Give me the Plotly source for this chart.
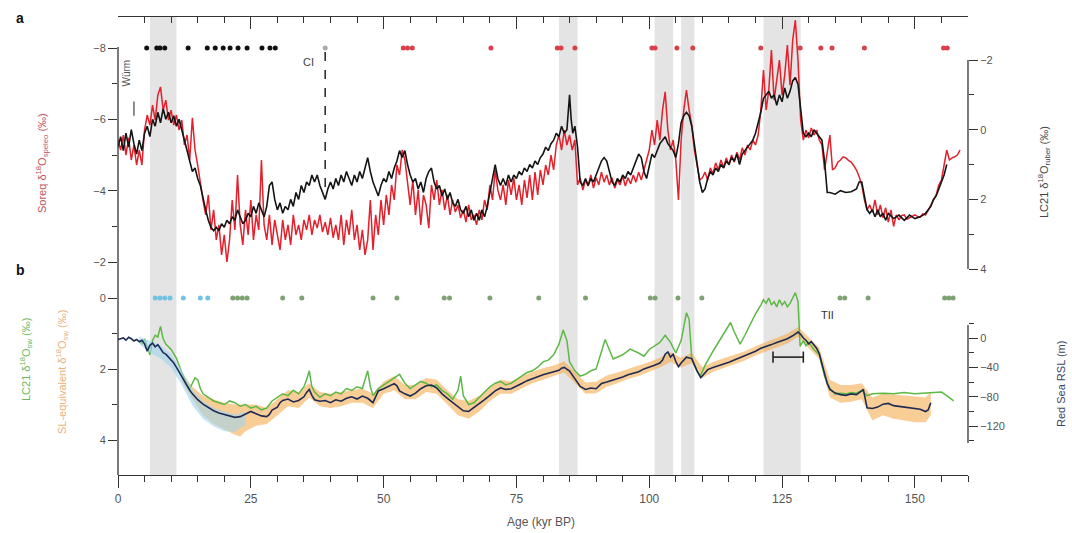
import plotly.graph_objects as go

# ---------------- DATA ----------------
# Panel a: Soreq speleothem d18O (left axis, reversed) as (age kyr, value)
soreq = [
(0,-5.42),(0.5,-5.14),(1,-5.56),(1.5,-5.0),(2,-5.48),(2.5,-4.86),(3,-5.28),(3.5,-4.72),(4,-5.14),(4.5,-4.72),
(5,-5.70),(5.5,-6.12),(6,-5.84),(6.5,-6.40),(7,-5.98),(7.5,-6.68),(8,-6.91),(8.5,-6.26),(9,-6.54),(9.5,-5.98),
(10,-6.26),(10.5,-5.84),(11,-6.12),(11.5,-5.70),(12,-5.98),(12.5,-5.28),(13,-5.56),(13.5,-4.86),(14,-6.04),(14.5,-5.14),
(15,-4.72),(15.5,-4.16),(16,-3.74),(16.5,-3.32),(17,-3.88),(17.5,-2.90),(18,-3.46),(18.5,-2.62),(19,-3.04),(19.5,-2.20),
(20,-2.76),(20.5,-2.00),(21,-2.62),(21.5,-3.74),(22,-2.90),(22.5,-4.44),(23,-3.04),(23.5,-2.48),(24,-3.46),(24.5,-2.76),
(25,-3.74),(25.5,-2.62),(26,-3.32),(26.5,-2.90),(27,-4.86),(27.5,-3.04),(28,-2.62),(28.5,-3.32),(29,-2.48),(29.5,-3.18),
(30,-2.76),(30.5,-2.34),(31,-3.18),(31.5,-2.62),(32,-3.04),(32.5,-2.48),(33,-3.32),(33.5,-2.76),(34,-3.04),(34.5,-2.62),
(35,-3.18),(35.5,-2.90),(36,-3.32),(36.5,-2.76),(37,-3.18),(37.5,-2.95),(38,-3.32),(38.5,-2.84),(39,-3.12),(39.5,-2.76),
(40,-3.24),(40.5,-2.68),(41,-3.04),(41.5,-2.62),(42,-3.32),(42.5,-2.48),(43,-3.18),(43.5,-2.76),(44,-3.46),(44.5,-2.62),
(45,-3.04),(45.5,-2.34),(46,-2.90),(46.5,-2.20),(47,-2.62),(47.5,-3.74),(48,-2.34),(48.5,-3.32),(49,-2.76),(49.5,-3.74),
(50,-3.04),(50.5,-3.88),(51,-3.32),(51.5,-4.16),(52,-3.74),(52.5,-4.72),(53,-4.44),(53.5,-5.14),(54,-4.86),(54.5,-4.16),
(55,-3.60),(55.5,-4.30),(56,-3.32),(56.5,-4.02),(57,-3.04),(57.5,-3.88),(58,-3.60),(58.5,-2.95),(59,-4.16),(59.5,-3.74),
(60,-4.30),(60.5,-3.60),(61,-4.02),(61.5,-3.46),(62,-3.88),(62.5,-3.32),(63,-3.74),(63.5,-3.40),(64,-3.60),(64.5,-3.24),
(65,-3.46),(65.5,-3.12),(66,-3.60),(66.5,-3.18),(67,-3.32),(67.5,-3.04),(68,-3.46),(68.5,-3.18),(69,-3.74),(69.5,-3.46),
(70,-4.16),(70.5,-3.74),(71,-4.58),(71.5,-4.02),(72,-3.74),(72.5,-4.16),(73,-3.60),(73.5,-4.30),(74,-3.88),(74.5,-4.36),
(75,-3.74),(75.5,-4.16),(76,-3.60),(76.5,-4.30),(77,-3.80),(77.5,-4.44),(78,-3.74),(78.5,-4.52),(79,-3.88),(79.5,-4.58),
(80,-4.16),(80.5,-4.72),(81,-4.44),(81.5,-5.00),(82,-4.58),(82.5,-5.28),(83,-5.56),(83.5,-5.14),(84,-5.70),(84.5,-5.28),
(85,-5.56),(85.5,-5.14),(86,-5.42),(86.5,-4.16),(87,-4.36),(87.5,-4.02),(88,-4.30),(88.5,-4.13),(89,-4.44),(89.5,-4.07),
(90,-4.36),(90.5,-4.16),(91,-4.52),(91.5,-4.24),(92,-4.44),(92.5,-4.16),(93,-4.36),(93.5,-4.07),(94,-4.30),(94.5,-4.16),
(95,-4.41),(95.5,-4.13),(96,-4.36),(96.5,-4.19),(97,-4.44),(97.5,-4.24),(98,-4.52),(98.5,-4.30),(99,-4.58),(99.5,-4.86),
(100,-5.14),(100.5,-5.70),(101,-5.28),(101.5,-5.98),(102,-5.42),(102.5,-6.26),(103,-6.77),(103.5,-5.70),(104,-5.14),(104.5,-5.42),
(105,-4.86),(105.5,-3.74),(106,-5.42),(106.5,-6.26),(107,-6.82),(107.5,-6.26),(108,-5.84),(108.5,-5.14),(109,-4.72),(109.5,-4.30),
(110,-4.36),(110.5,-4.52),(111,-4.30),(111.5,-4.64),(112,-4.47),(112.5,-4.78),(113,-4.58),(113.5,-4.86),(114,-4.64),(114.5,-4.92),
(115,-4.72),(115.5,-5.00),(116,-4.80),(116.5,-5.08),(117,-4.86),(117.5,-5.20),(118,-5.00),(118.5,-5.28),(119,-5.14),(119.5,-5.42),
(120,-5.28),(120.5,-5.56),(121,-6.26),(121.5,-7.38),(122,-6.26),(122.5,-6.82),(123,-7.94),(123.5,-6.54),(124,-7.10),(124.5,-7.66),
(125,-6.68),(125.5,-7.24),(126,-8.08),(126.5,-6.96),(127,-8.22),(127.5,-8.78),(128,-7.66),(128.5,-5.98),(129,-5.42),(129.5,-5.70),
(130,-5.48),(130.5,-5.76),(131,-5.56),(131.5,-5.70),(132,-5.42),(132.5,-5.28),(133,-4.58),(133.5,-5.14),(134,-5.56),(134.5,-4.58),
(135,-4.64),(135.5,-4.80),(136,-4.86),(136.5,-4.95),(137,-4.92),(137.5,-4.85),(138,-4.80),(138.5,-4.70),(139,-4.58),(139.5,-4.40),
(140,-4.16),(140.5,-3.74),(141,-3.46),(141.5,-3.60),(142,-3.40),(142.5,-3.74),(143,-3.32),(143.5,-3.60),(144,-3.24),(144.5,-3.52),
(145,-3.12),(145.5,-3.46),(146,-3.00),(146.5,-3.32),(147,-3.18),(147.5,-3.30),(148,-3.32),(148.5,-3.20),(149,-3.24),(149.5,-3.30),
(150,-3.32),(150.5,-3.28),(151,-3.26),(151.5,-3.35),(152,-3.32),(152.5,-3.45),(153,-3.60),(153.5,-3.74),(154,-3.88),(154.5,-4.16),
(155,-4.30),(155.5,-4.72),(156,-5.14),(156.5,-4.86),(157,-4.92),(157.5,-4.95),(158,-5.00),(158.5,-5.14)]

# Panel a: LC21 G. ruber d18O (right axis, reversed)
lc21_ruber = [
(0,0.5),(0.5,0.2),(1,0.6),(1.5,0.1),(2,0.5),(2.5,0.0),(3,0.4),(3.5,0.7),(4,0.3),(4.5,0.6),
(5,0.1),(5.5,-0.1),(6,0.2),(6.5,-0.3),(7,-0.1),(7.5,-0.5),(8,-0.2),(8.5,-0.6),(9,-0.3),(9.5,-0.5),
(10,-0.2),(10.5,-0.4),(11,-0.1),(11.5,-0.3),(12,0.0),(12.5,0.3),(13,0.6),(13.5,0.9),(14,1.2),(14.5,1.1),
(15,1.4),(15.5,1.6),(16,2.0),(16.5,2.3),(17,2.6),(17.5,2.8),(18,2.9),(18.5,2.8),(19,2.9),(19.5,2.7),
(20,2.8),(20.5,2.6),(21,2.7),(21.5,2.5),(22,2.6),(22.5,2.3),(23,2.5),(23.5,2.7),(24,2.6),(24.5,2.4),
(25,2.5),(25.5,2.2),(26,2.4),(26.5,2.1),(27,2.3),(27.5,2.5),(28,2.2),(28.5,1.6),(29,1.5),(29.5,2.0),
(30,2.3),(30.5,2.1),(31,2.4),(31.5,2.2),(32,2.3),(32.5,2.0),(33,2.2),(33.5,1.8),(34,2.0),(34.5,1.6),
(35,1.8),(35.5,1.5),(36,1.6),(36.5,1.3),(37,1.5),(37.5,1.3),(38,1.6),(38.5,1.8),(39,2.0),(39.5,1.7),
(40,1.5),(40.5,1.7),(41,1.4),(41.5,1.6),(42,1.3),(42.5,1.5),(43,1.2),(43.5,1.4),(44,1.6),(44.5,1.3),
(45,1.5),(45.5,1.2),(46,1.4),(46.5,1.1),(47,0.8),(47.5,1.2),(48,1.5),(48.5,1.7),(49,1.9),(49.5,1.6),
(50,1.4),(50.5,1.5),(51,1.2),(51.5,1.4),(52,1.1),(52.5,0.9),(53,0.6),(53.5,0.8),(54,0.6),(54.5,1.0),
(55,1.3),(55.5,1.5),(56,1.4),(56.5,1.7),(57,1.5),(57.5,1.8),(58,1.4),(58.5,1.2),(59,1.1),(59.5,1.5),
(60,1.7),(60.5,1.6),(61,1.9),(61.5,1.7),(62,2.0),(62.5,1.8),(63,2.1),(63.5,2.2),(64,2.0),(64.5,2.3),
(65,2.4),(65.5,2.2),(66,2.5),(66.5,2.3),(67,2.6),(67.5,2.4),(68,2.6),(68.5,2.3),(69,2.5),(69.5,2.2),
(70,1.8),(70.5,1.3),(71,1.0),(71.5,1.4),(72,1.6),(72.5,1.4),(73,1.6),(73.5,1.3),(74,1.5),(74.5,1.3),
(75,1.4),(75.5,1.2),(76,1.3),(76.5,1.1),(77,1.2),(77.5,1.0),(78,1.1),(78.5,0.9),(79,1.0),(79.5,0.8),
(80,0.7),(80.5,0.5),(81,0.6),(81.5,0.4),(82,0.3),(82.5,0.1),(83,0.2),(83.5,-0.1),(84,0.1),(84.5,0.0),
(85,-1.0),(85.3,-0.3),(85.6,0.1),(86,-0.1),(86.5,0.5),(87,1.5),(87.5,1.6),(88,1.4),(88.5,1.6),(89,1.4),
(89.5,1.5),(90,1.3),(90.5,1.1),(91,0.9),(91.5,0.8),(92,0.9),(92.5,1.2),(93,1.5),(93.5,1.6),(94,1.4),
(94.5,1.5),(95,1.3),(95.5,1.4),(96,1.2),(96.5,1.3),(97,1.1),(97.5,0.9),(98,0.7),(98.5,0.8),(99,1.2),
(99.5,1.4),(100,1.0),(100.5,0.7),(101,0.8),(101.5,0.6),(102,0.4),(102.5,0.3),(103,0.2),(103.5,0.4),(104,0.5),
(104.5,0.6),(105,0.8),(105.5,0.4),(106,-0.2),(106.5,-0.4),(107,-0.5),(107.5,-0.4),(108,-0.1),(108.5,0.4),(109,0.9),
(109.5,1.5),(110,1.8),(110.5,1.7),(111,1.4),(111.5,1.2),(112,1.3),(112.5,1.1),(113,1.2),(113.5,1.0),(114,1.1),
(114.5,0.9),(115,1.0),(115.5,0.8),(116,0.9),(116.5,0.7),(117,1.0),(117.5,0.7),(118,0.6),(118.5,0.5),(119,0.4),
(119.5,0.3),(120,0.1),(120.5,-0.2),(121,-0.5),(121.5,-0.9),(122,-1.0),(122.5,-1.1),(123,-0.9),(123.5,-1.0),(124,-0.7),
(124.5,-1.0),(125,-0.8),(125.5,-1.2),(126,-0.9),(126.5,-1.1),(127,-1.4),(127.5,-1.5),(128,-1.3),(128.5,-0.5),(129,0.1),
(129.5,0.2),(130,0.1),(130.5,0.2),(131,0.0),(131.5,0.1),(132,0.2),(132.5,0.3),(133,0.9),(133.5,1.8),(134,1.8),
(135,1.85),(136,1.75),(137,1.8),(138,1.78),(139,1.7),(139.5,1.5),(140,1.5),(140.5,1.9),(141,2.3),(141.5,2.4),
(142,2.3),(142.5,2.5),(143,2.3),(143.5,2.5),(144,2.4),(144.5,2.6),(145,2.4),(146,2.55),(147,2.45),(148,2.6),
(149,2.45),(150,2.55),(151,2.5),(152,2.4),(152.5,2.3),(153,2.2),(153.5,2.0),(154,1.9),(154.5,1.7),(155,1.5),
(155.5,1.3),(156,1.0)]

# Panel b: LC21 seawater d18O (left axis, reversed)
lc21_sw = [
(4,1.2),(4.5,1.3),(5,1.15),(5.5,1.35),(6,1.6),(6.5,1.2),(7,1.05),(7.5,1.1),(8,0.8),(8.5,1.15),
(9,1.3),(10,1.45),(11,1.7),(12,2.1),(12.5,2.3),(13,2.45),(13.5,2.55),(14,2.4),(14.5,2.25),(15,2.3),
(15.5,2.55),(16,2.7),(17,2.8),(18,2.9),(19,2.95),(20,3.0),(21,2.9),(22,2.95),(23,3.05),(24,3.0),
(25,3.1),(26,3.05),(27,3.15),(28,3.1),(29,2.9),(30,2.8),(31,2.7),(32,2.75),(33,2.6),(34,2.7),
(35,2.5),(35.5,2.3),(36,2.05),(36.5,2.5),(37,2.65),(38,2.8),(39,2.7),(40,2.75),(41,2.65),(42,2.7),
(43,2.55),(44,2.6),(45,2.5),(46,2.55),(46.5,2.3),(47,2.05),(47.5,2.5),(48,2.75),(49,2.55),(50,2.45),
(51,2.35),(52,2.25),(53,2.15),(54,2.4),(55,2.55),(56,2.45),(57,2.35),(58,2.4),(59,2.5),(60,2.45),
(61,2.6),(62,2.7),(63,2.85),(64,2.6),(64.5,2.2),(65,2.75),(66,3.0),(67,2.95),(68,2.8),(69,2.65),
(70,2.5),(71,2.4),(72,2.35),(73,2.45),(74,2.4),(75,2.3),(76,2.2),(77,2.1),(78,2.05),(79,1.95),
(80,1.8),(81,1.75),(82,1.6),(83,1.3),(83.8,0.9),(84.5,1.2),(85,1.8),(86,2.05),(87,2.2),(88,2.15),
(89,2.05),(90,2.0),(91.7,1.17),(93.2,1.72),(95,1.6),(96.4,1.44),(98,1.55),(99,1.64),(100,1.45),(101,1.35),
(102,1.25),(103,1.05),(104,1.25),(105,1.55),(106,1.2),(107,0.42),(107.5,0.6),(108,1.7),(109,2.05),(109.6,2.2),
(110.5,1.9),(112,1.5),(114,1.0),(115.3,0.69),(116,0.95),(117.1,1.3),(118,1.05),(119,0.75),(120,0.45),(121,0.2),
(121.5,0.05),(122,0.15),(122.5,0.0),(123,0.2),(123.5,0.1),(124,0.25),(124.5,0.05),(125,0.2),(125.5,0.1),(126,0.25),
(126.5,0.15),(127,0.0),(127.5,-0.15),(128,0.1),(128.4,1.36),(129,1.2),(129.5,1.35),(130,1.25),(131,1.45),(132,1.6),
(133,2.2),(134,2.55),(135,2.7),(136,2.68),(137,2.7),(138,2.66),(139,2.68),(140,2.6),(141,2.75),(142,2.7),
(144,2.68),(146,2.7),(148,2.66),(150,2.7),(152,2.68),(154,2.64),(155,2.65),(156,2.75),(157.3,2.9)]

# Panel b: Red Sea relative sea level (m, right axis)
red_sea_rsl = [
(0,-2),(1,0),(1.5,-3),(2,1),(2.5,-1),(3,-4),(3.5,-2),(4,-5),(4.5,-3),(5,-8),
(5.5,-18),(6,-10),(6.5,-7),(7,-12),(7.5,-9),(8,-15),(8.5,-20),(9,-22),(9.5,-26),(10,-30),
(10.5,-34),(11,-40),(11.5,-46),(12,-53),(12.5,-60),(13,-66),(13.5,-71),(14,-76),(15,-84),(16,-90),
(17,-95),(18,-99),(19,-102),(20,-104),(21,-106),(22,-108),(23,-107),(24,-104),(25,-100),(26,-103),
(27,-106),(28,-107),(28.5,-104),(29,-98),(30,-94),(30.5,-88),(31,-85),(32,-83),(33,-87),(34,-85),
(35,-80),(35.5,-74),(36,-70),(36.5,-78),(37,-84),(38,-86),(39,-85),(40,-88),(41,-84),(42,-86),
(43,-82),(44,-80),(45,-83),(46,-79),(47,-82),(48,-88),(48.5,-80),(49,-72),(50,-69),(51,-66),
(52,-62),(52.5,-65),(53,-72),(54,-76),(55,-79),(56,-75),(57,-69),(58,-65),(59,-64),(60,-68),
(61,-76),(62,-82),(63,-88),(64,-94),(65,-99),(66,-100),(67,-95),(68,-90),(69,-84),(70,-78),
(71,-72),(72,-68),(73,-70),(74,-69),(75,-66),(76,-62),(77,-58),(78,-55),(79,-52),(80,-50),
(81,-48),(82,-46),(83,-44),(83.5,-41),(84,-40),(85,-45),(86,-55),(87,-66),(88,-70),(89,-68),
(90,-69),(91,-62),(92,-60),(93,-58),(94,-55),(95,-53),(96,-50),(97,-48),(98,-46),(99,-42),
(100,-40),(101,-37),(102,-34),(102.5,-30),(103,-22),(103.5,-19),(104,-26),(104.5,-22),(105,-32),(105.5,-39),
(106,-34),(107,-26),(108,-28),(109,-45),(109.7,-54),(110.5,-48),(111,-43),(112,-40),(113,-38),(114,-35),
(115,-33),(116,-30),(117,-27),(118,-25),(119,-22),(120,-18),(121,-14),(122,-12),(123,-9),(124,-6),
(125,-4),(126,-1),(127,3),(128,8),(128.5,5),(129,0),(129.5,-3),(130,-8),(130.5,-5),(131,-10),
(131.5,-14),(132,-21),(132.5,-35),(133,-50),(133.5,-62),(134,-70),(135,-75),(136,-77),(137,-78),(138,-76),
(139,-77),(140,-72),(140.3,-70),(141,-95),(142,-96),(143,-94),(144,-90),(145,-89),(146,-92),(147,-93),
(148,-94),(149,-95),(150,-96),(151,-97),(152,-100),(152.5,-98),(153,-88)]

# Panel b: SL-equivalent seawater d18O uncertainty envelope (age, upper, lower) on left axis
sl_equiv_band = [
(12,2.1,2.35),(14,2.5,2.85),(16,2.75,3.3),(18,2.85,3.55),(20,2.95,3.7),(22,3.0,3.85),(23,3.0,3.9),
(24,3.0,3.75),(26,3.0,3.6),(28,3.1,3.55),(30,2.85,3.3),(32,2.6,3.05),(34,2.65,3.1),(36,2.4,2.8),
(38,2.65,3.05),(40,2.7,3.1),(42,2.65,3.05),(44,2.6,2.95),(46,2.55,2.95),(48,2.7,3.1),(50,2.35,2.7),
(52,2.2,2.6),(54,2.45,2.85),(56,2.45,2.85),(58,2.25,2.65),(60,2.3,2.7),(62,2.6,3.0),(64,2.85,3.3),
(66,2.9,3.4),(68,2.75,3.2),(70,2.5,2.9),(72,2.3,2.7),(74,2.35,2.7),(76,2.22,2.55),(78,2.08,2.4),
(80,1.98,2.3),(82,1.9,2.2),(84,1.78,2.1),(86,2.08,2.4),(88,2.38,2.7),(90,2.36,2.68),(92,2.18,2.5),
(94,2.1,2.4),(96,2.0,2.28),(98,1.92,2.2),(100,1.8,2.08),(102,1.68,1.96),(104,1.52,1.8),(106,1.68,1.96),
(108,1.55,1.83),(110,1.95,2.25),(112,1.8,2.08),(114,1.7,1.98),(116,1.6,1.86),(118,1.5,1.76),(120,1.36,1.62),
(122,1.24,1.5),(124,1.1,1.38),(126,1.0,1.28),(128,0.82,1.1),(130,1.12,1.4),(132,1.4,1.72),(134,2.3,2.8),
(136,2.45,2.95),(138,2.45,2.92),(140,2.4,2.85),(142,2.8,3.45),(144,2.7,3.3),(146,2.72,3.4),(148,2.75,3.45),
(150,2.78,3.5),(152,2.8,3.5),(153,2.65,3.3)]

# Panel b: deglacial sea-level envelope (age, upper m, lower m) on right axis
deglacial_band = [
(4,2,-8),(6,-4,-20),(8,-10,-28),(10,-22,-40),(12,-44,-64),(14,-70,-92),(16,-86,-110),
(18,-95,-120),(20,-100,-127),(22,-104,-128),(24,-100,-118)]

# Age-control tie points
black_dot_ages = [5.4, 7.3, 7.9, 8.8, 13.2, 16.8, 18.3, 19.8, 21.1, 22.6, 24.3, 27.1, 28.6, 29.6]
red_dot_ages = [53.7, 54.5, 55.4, 70.2, 82.7, 83.4, 86.0, 100.5, 101.1, 105.2, 108.2, 121.0,
                128.4, 132.3, 134.4, 140.5, 155.4, 156.1]
cyan_dot_ages = [7.0, 7.9, 8.8, 9.8, 12.3, 15.5, 16.9]
green_dot_ages = [21.6, 22.5, 23.4, 24.3, 31.0, 34.6, 48.0, 52.5, 61.4, 62.4, 70.0, 79.2, 88.0,
                  100.2, 101.1, 105.4, 109.9, 135.9, 136.8, 141.2, 155.6, 156.4, 157.2]

# Grey shaded intervals (kyr)
band_start = [6, 83, 101, 106, 121.5]
band_end = [11, 86.5, 104.5, 108.5, 128.5]

ci_age = 39.0
tii_bar_age = [123.3, 129.0]
tii_bar_rsl = [-26, -26]

x_ticks = [0, 25, 50, 75, 100, 125, 150]

# ---------------- LAYOUT GEOMETRY (pixels) ----------------
L, R, T, B = 118, 968, 17, 475
W, H = R - L, B - T
def pxp(x): return (x - L) / W
def pyp(y): return (B - y) / H

FONT = "Liberation Sans, Arial, sans-serif"
TICKC = "#333"
LABC = "#555"

fig = go.Figure()

def split(pairs):
    return [p[0] for p in pairs], [p[1] for p in pairs]

# ---- panel b bands ----
ba = [r[0] for r in deglacial_band]
fig.add_trace(go.Scatter(x=ba, y=[r[1] for r in deglacial_band], yaxis="y4", mode="lines",
                         line=dict(width=0), hoverinfo="skip"))
fig.add_trace(go.Scatter(x=ba, y=[r[2] for r in deglacial_band], yaxis="y4", mode="lines",
                         line=dict(width=0), fill="tonexty", fillcolor="rgba(160,212,236,0.6)",
                         hoverinfo="skip"))
sa = [r[0] for r in sl_equiv_band]
fig.add_trace(go.Scatter(x=sa, y=[r[1] for r in sl_equiv_band], yaxis="y3", mode="lines",
                         line=dict(width=0), hoverinfo="skip"))
fig.add_trace(go.Scatter(x=sa, y=[r[2] for r in sl_equiv_band], yaxis="y3", mode="lines",
                         line=dict(width=0), fill="tonexty", fillcolor="rgba(245,172,80,0.6)",
                         hoverinfo="skip"))

gx, gy = split(lc21_sw)
fig.add_trace(go.Scatter(x=gx, y=gy, yaxis="y3", mode="lines",
                         line=dict(color="#5db845", width=1.5)))
nx, ny = split(red_sea_rsl)
fig.add_trace(go.Scatter(x=nx, y=ny, yaxis="y4", mode="lines",
                         line=dict(color="#1d2b55", width=1.6)))
fig.add_trace(go.Scatter(x=tii_bar_age, y=tii_bar_rsl, yaxis="y4", mode="lines+markers",
                         line=dict(color="#222", width=1.6),
                         marker=dict(symbol="line-ns", size=8, line=dict(color="#222", width=1.6))))

# ---- panel a ----
rx, ry = split(soreq)
fig.add_trace(go.Scatter(x=rx, y=ry, yaxis="y", mode="lines",
                         line=dict(color="#e3202b", width=1.5)))
kx, ky = split(lc21_ruber)
fig.add_trace(go.Scatter(x=kx, y=ky, yaxis="y2", mode="lines",
                         line=dict(color="#151515", width=1.6)))

# tie-point rows
fig.add_trace(go.Scatter(x=black_dot_ages, y=[-8] * len(black_dot_ages), xaxis="x2", yaxis="y",
                         mode="markers", marker=dict(color="#111", size=5)))
fig.add_trace(go.Scatter(x=red_dot_ages, y=[-8] * len(red_dot_ages), yaxis="y",
                         mode="markers", marker=dict(color="#d8404a", size=5)))
fig.add_trace(go.Scatter(x=[ci_age], y=[-8], yaxis="y", mode="markers",
                         marker=dict(color="#aaa", size=5)))
fig.add_trace(go.Scatter(x=cyan_dot_ages, y=[0] * len(cyan_dot_ages), yaxis="y3",
                         mode="markers", marker=dict(color="#72c3e0", size=5)))
fig.add_trace(go.Scatter(x=green_dot_ages, y=[0] * len(green_dot_ages), yaxis="y3",
                         mode="markers", marker=dict(color="#7ea274", size=5)))

shapes = []
for s, e in zip(band_start, band_end):
    shapes.append(dict(type="rect", xref="x", yref="paper", x0=s, x1=e, y0=0, y1=1,
                       fillcolor="#e4e4e4", line=dict(width=0), layer="below"))
# axis spines
shapes.append(dict(type="line", xref="paper", yref="paper", x0=0, x1=0, y0=pyp(475), y1=pyp(47),
                   line=dict(color=TICKC, width=1.3)))
shapes.append(dict(type="line", xref="paper", yref="paper", x0=1, x1=1, y0=pyp(269), y1=pyp(60),
                   line=dict(color=TICKC, width=1.3)))
shapes.append(dict(type="line", xref="paper", yref="paper", x0=1, x1=1, y0=pyp(443), y1=pyp(325),
                   line=dict(color=TICKC, width=1.3)))
# CI dashed line and Wurm marker
shapes.append(dict(type="line", xref="x", yref="y", x0=ci_age, x1=ci_age, y0=-7.89, y1=-3.93,
                   line=dict(color="#222", width=1.5, dash="dash")))
shapes.append(dict(type="line", xref="x", yref="y", x0=3.0, x1=3.0, y0=-6.5, y1=-6.1,
                   line=dict(color="#444", width=1.2)))

def ax_range(v_at, y_at, ppu):
    # reversed axis: value increases downward; returns [bottom, top]
    return [v_at + (B - y_at) / ppu, v_at - (y_at - T) / ppu]

tickfont = dict(family=FONT, size=11, color=LABC)
common_y = dict(showgrid=False, zeroline=False, showline=False, ticks="outside", tickcolor=TICKC,
                tickwidth=1.2, ticklen=9, tickfont=tickfont, tickmode="array")

fig.update_layout(
    width=1072, height=533,
    margin=dict(l=L, r=1072 - R, t=T, b=533 - B),
    paper_bgcolor="white", plot_bgcolor="white",
    showlegend=False,
    font=dict(family=FONT),
    xaxis=dict(range=[0, 160], showgrid=False, zeroline=False, showline=True, linecolor=TICKC,
               linewidth=1.3, ticks="outside", tickmode="array", tickvals=x_ticks, ticklen=12,
               tickcolor=TICKC, tickwidth=1.3, tickfont=dict(family=FONT, size=12, color=LABC),
               minor=dict(tickmode="linear", tick0=0, dtick=5, ticks="outside", ticklen=6,
                          tickcolor=TICKC, tickwidth=1.2)),
    xaxis2=dict(range=[0, 160], overlaying="x", side="top", anchor="y", showgrid=False,
                zeroline=False, showline=True, linecolor=TICKC, linewidth=1.3, ticks="inside",
                tickmode="array", tickvals=x_ticks, ticklen=12, tickcolor=TICKC, tickwidth=1.3,
                showticklabels=False,
                minor=dict(tickmode="linear", tick0=0, dtick=5, ticks="inside", ticklen=6,
                           tickcolor=TICKC, tickwidth=1.2)),
    yaxis=dict(range=ax_range(-8, 48, 35.67), tickvals=[-8, -6, -4, -2],
               minor=dict(tickmode="array", tickvals=[-7, -5, -3], ticks="outside", ticklen=5,
                          tickcolor=TICKC), **common_y),
    yaxis2=dict(range=ax_range(-2, 60, 34.85), overlaying="y", side="right", anchor="x",
                tickvals=[-2, 0, 2, 4],
                minor=dict(tickmode="array", tickvals=[-1, 1, 3], ticks="outside", ticklen=5,
                           tickcolor=TICKC), **common_y),
    yaxis3=dict(range=ax_range(0, 298, 35.5), overlaying="y", side="left", anchor="x",
                tickvals=[0, 2, 4],
                minor=dict(tickmode="array", tickvals=[1, 3], ticks="outside", ticklen=5,
                           tickcolor=TICKC), **common_y),
    yaxis4=dict(range=[-(B - 338) / 0.735, (338 - T) / 0.735], overlaying="y", side="right",
                anchor="x", tickvals=[0, -40, -80, -120],
                minor=dict(tickmode="array", tickvals=[20, -20, -60, -100, -140], ticks="outside",
                           ticklen=5, tickcolor=TICKC), **common_y),
    shapes=shapes,
)

ann = [
    dict(text="<b>a</b>", x=pxp(20), y=pyp(18), font=dict(size=14, color="#111")),
    dict(text="<b>b</b>", x=pxp(20), y=pyp(270), font=dict(size=14, color="#111")),
    dict(text="Soreq δ<sup>18</sup>O<sub>speleo</sub> (‰)", x=pxp(42), y=pyp(163), textangle=-90,
         font=dict(size=11, color="#c2525a")),
    dict(text="LC21 δ<sup>18</sup>O<sub>ruber</sub> (‰)", x=pxp(1044), y=pyp(172), textangle=-90,
         font=dict(size=11, color="#444")),
    dict(text="LC21 δ<sup>18</sup>O<sub>sw</sub> (‰)", x=pxp(26), y=pyp(360), textangle=-90,
         font=dict(size=11, color="#6cb860")),
    dict(text="SL-equivalent δ<sup>18</sup>O<sub>sw</sub> (‰)", x=pxp(62), y=pyp(372), textangle=-90,
         font=dict(size=11, color="#e9b27a")),
    dict(text="Red Sea RSL (m)", x=pxp(1061), y=pyp(384), textangle=-90,
         font=dict(size=11, color="#3a4566")),
    dict(text="Age (kyr BP)", x=pxp(541), y=pyp(522), font=dict(size=12, color="#555")),
]
for a in ann:
    a.update(xref="paper", yref="paper", showarrow=False, xanchor="center", yanchor="middle")
    fig.add_annotation(**a)

fig.add_annotation(text="CI", x=35.8, y=-7.6, xref="x", yref="y", showarrow=False,
                   font=dict(size=11, color="#444"))
fig.add_annotation(text="Würm", x=1.6, y=-7.3, xref="x", yref="y", showarrow=False, textangle=-90,
                   font=dict(size=10, color="#555"))
fig.add_annotation(text="TII", x=133.6, y=0.48, xref="x", yref="y3", showarrow=False,
                   font=dict(size=11, color="#333"))

fig.write_html("out.html")
